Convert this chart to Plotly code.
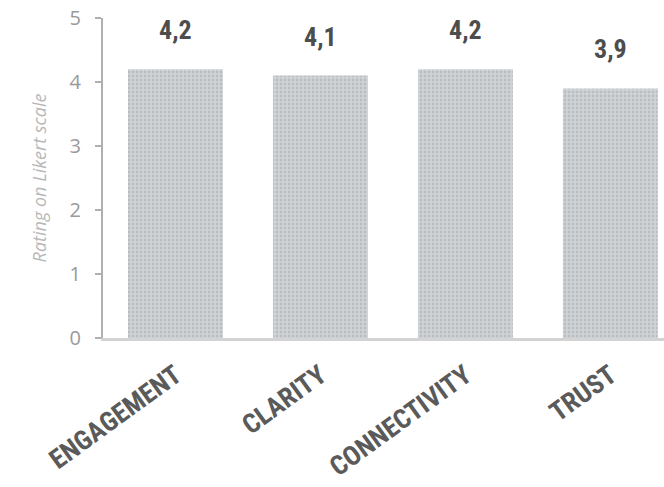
import plotly.graph_objects as go

# Survey dimensions and their mean ratings (Likert scale 0-5)
categories = ["ENGAGEMENT", "CLARITY", "CONNECTIVITY", "TRUST"]
ratings = [4.2, 4.1, 4.2, 3.9]
y_ticks = [0, 1, 2, 3, 4, 5]

label_font = "Roboto Condensed, Roboto, sans-serif"

fig = go.Figure()
fig.add_trace(go.Bar(
    x=categories,
    y=ratings,
    marker=dict(
        color="#cdd1d4",
        line=dict(width=0),
        pattern=dict(shape=".", fgcolor="#a2a6aa", bgcolor="#d0d4d7",
                     size=4, solidity=0.4),
    ),
    hoverinfo="skip",
))

# value labels above each bar, using a decimal comma
for cat, val in zip(categories, ratings):
    fig.add_annotation(
        x=cat, y=val, xref="x", yref="y",
        text=f"{val:.1f}".replace(".", ","),
        showarrow=False, yanchor="middle", yshift=39,
        font=dict(family=label_font, size=26, color="#4d4d4d", weight="bold"),
    )

fig.update_layout(
    width=664, height=487,
    margin=dict(l=103, r=0, t=18, b=149),
    paper_bgcolor="white", plot_bgcolor="white",
    bargap=0.345,
    showlegend=False,
    xaxis=dict(
        range=[-0.5, 3.37],
        showgrid=False, zeroline=False,
        showline=True, linecolor="#d3d3d3", linewidth=3,
        ticks="", tickangle=-36, ticklabelstandoff=8,
        tickfont=dict(family=label_font, size=27, color="#5a5a5a", weight="bold"),
    ),
    yaxis=dict(
        range=[0, 5],
        tickvals=y_ticks,
        showgrid=False, zeroline=False,
        showline=True, linecolor="#b0b0b0", linewidth=2,
        ticks="outside", ticklen=6, tickcolor="#b0b0b0", tickwidth=2,
        ticklabelstandoff=10,
        tickfont=dict(family="Open Sans, sans-serif", size=20, color="#9a9a9a"),
        title=dict(text="Rating on Likert scale", standoff=18,
                   font=dict(family="Open Sans, sans-serif", size=18,
                             color="#b8b8b8", style="italic")),
    ),
)

fig.write_html("out.html")
